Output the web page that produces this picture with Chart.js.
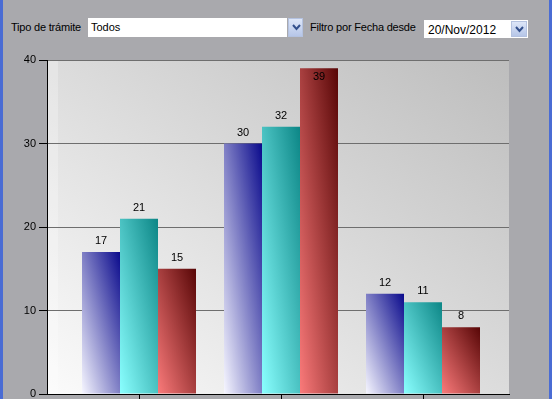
<!DOCTYPE html>
<html>
<head>
<meta charset="utf-8">
<script src="https://cdn.jsdelivr.net/npm/chart.js@4.4.1/dist/chart.umd.min.js"></script>
<style>
  html, body { margin: 0; padding: 0; }
  body {
    width: 552px; height: 399px; overflow: hidden; position: relative;
    background: #a9a9ad; font-family: "Liberation Sans", Arial, sans-serif; font-size: 11px; color: #000;
  }
  .edge { position: absolute; top: 0; height: 399px; width: 3px; background: #4a6cd4; }
  .lbl { position: absolute; top: 20px; line-height: 14px; letter-spacing: -0.2px; }
  .box { position: absolute; background: #fff; }
  .btn {
    position: absolute; box-sizing: border-box; border: 1px solid #b4c2e0;
    background: linear-gradient(#dde6f8, #b6c6e8);
  }
  .btn svg { position: absolute; left: 3px; top: 5px; }
  #chart { position: absolute; left: 0; top: 40px; }
</style>
</head>
<body>
<div class="edge" style="left:0"></div>
<div class="edge" style="left:549px"></div>

<div class="lbl" style="left:11px">Tipo de trámite</div>
<div class="box" style="left:88px; top:18px; width:199px; height:19px;">
  <span style="position:absolute; left:3px; top:3px;">Todos</span>
</div>
<div class="btn" style="left:288px; top:18px; width:15px; height:19px;">
  <svg width="9" height="7"><polyline points="1,1 4.5,5 8,1" fill="none" stroke="#33508c" stroke-width="2"/></svg>
</div>

<div class="lbl" style="left:310px">Filtro por Fecha desde</div>
<div class="box" style="left:424px; top:20px; width:104px; height:18px;">
  <span style="position:absolute; left:4px; top:3px; font-size:12px;">20/Nov/2012</span>
</div>
<div class="btn" style="left:511px; top:21px; width:16px; height:16px;">
  <svg width="9" height="7" style="top:4px"><polyline points="1,1 4.5,5 8,1" fill="none" stroke="#33508c" stroke-width="2"/></svg>
</div>

<canvas id="chart" width="552" height="365"></canvas>

<script>
// data
const categories = ['1', '2', '3'];
const serieA = [17, 30, 12];
const serieB = [21, 32, 11];
const serieC = [15, 39, 8];
const yTicks = [0, 10, 20, 30, 40];

// light -> dark colour pairs of each serie
const barColors = [
  ['#f6f6ff', '#0a0a8c'],
  ['#8affff', '#0c8686'],
  ['#fa7a7a', '#580606']
];

const FONT = '"Liberation Sans", Arial, sans-serif';

// gradient from bottom-left corner to top-right corner, in the box's own proportions
function diagGradient(ctx, l, t, w, h, light, dark) {
  const k = 2 * w * h / (w * w + h * h);
  const g = ctx.createLinearGradient(l, t + h, l + h * k, t + h - w * k);
  g.addColorStop(0, light);
  g.addColorStop(1, dark);
  return g;
}

const plotBackground = {
  id: 'plot_background',
  beforeDraw: (chart) => {
    const {ctx, chartArea: a} = chart;
    ctx.save();
    ctx.fillStyle = diagGradient(ctx, a.left, a.top, a.right - a.left, a.bottom - a.top, '#fbfbfb', '#bdbdbd');
    ctx.fillRect(a.left, a.top, a.right - a.left, a.bottom - a.top);
    // lighter strip along the left wall
    ctx.fillStyle = 'rgba(255,255,255,0.25)';
    ctx.fillRect(a.left, a.top, 11, a.bottom - a.top);
    ctx.restore();
  }
};

const barGradients = {
  id: 'bar_gradients',
  beforeDatasetsDraw: (chart) => {
    const {ctx} = chart;
    chart.data.datasets.forEach((ds, di) => {
      chart.getDatasetMeta(di).data.forEach((bar) => {
        const p = bar.getProps(['x', 'y', 'base', 'width'], true);
        const l = p.x - p.width / 2;
        const g = diagGradient(ctx, l, p.y, p.width, p.base - p.y, barColors[di][0], barColors[di][1]);
        bar.options = Object.assign({}, bar.options, {backgroundColor: g});
      });
    });
  }
};

const valueLabels = {
  id: 'value_labels',
  afterDatasetsDraw: (chart) => {
    const {ctx, chartArea} = chart;
    ctx.save();
    ctx.font = '11px ' + FONT;
    ctx.fillStyle = '#000';
    ctx.textAlign = 'center';
    ctx.textBaseline = 'alphabetic';
    chart.data.datasets.forEach((ds, di) => {
      chart.getDatasetMeta(di).data.forEach((bar, i) => {
        let y = bar.y - 8;
        if (y - 10 < chartArea.top) y = bar.y + 12;
        ctx.fillText(String(ds.data[i].y), bar.x, y);
      });
    });
    ctx.restore();
  }
};

const toPoints = (vals) => vals.map((v, i) => ({x: i + 1, y: v}));

new Chart(document.getElementById('chart'), {
  type: 'bar',
  plugins: [plotBackground, barGradients, valueLabels],
  data: {
    datasets: [
      {data: toPoints(serieA), backgroundColor: barColors[0][1]},
      {data: toPoints(serieB), backgroundColor: barColors[1][1]},
      {data: toPoints(serieC), backgroundColor: barColors[2][1]}
    ]
  },
  options: {
    responsive: false,
    animation: false,
    events: [],
    categoryPercentage: 114 / 142,
    barPercentage: 1,
    borderWidth: 0,
    layout: {padding: {top: 20, right: 43, left: 0, bottom: 0}},
    plugins: {legend: {display: false}, tooltip: {enabled: false}},
    scales: {
      x: {
        type: 'linear',
        min: 1 - 92 / 142,
        max: 3 + 86 / 142,
        offset: false,
        afterBuildTicks: (s) => { s.ticks = categories.map((c, i) => ({value: i + 1})); },
        ticks: {display: false},
        grid: {drawOnChartArea: false, offset: false, tickColor: '#000', tickLength: 8},
        border: {color: '#000'},
        afterFit: (s) => { s.height = 11; }
      },
      y: {
        min: 0,
        max: 40,
        afterBuildTicks: (s) => { s.ticks = yTicks.map((v) => ({value: v})); },
        ticks: {color: '#000', padding: 3, font: {family: FONT, size: 11}},
        grid: {
          color: (c) => c.tick && c.tick.value === 0 ? 'rgba(0,0,0,0)' : '#6e6e6e',
          tickColor: '#000',
          tickLength: 8
        },
        border: {color: '#000'},
        afterFit: (s) => { s.width = 47; }
      }
    }
  }
});
</script>
</body>
</html>
